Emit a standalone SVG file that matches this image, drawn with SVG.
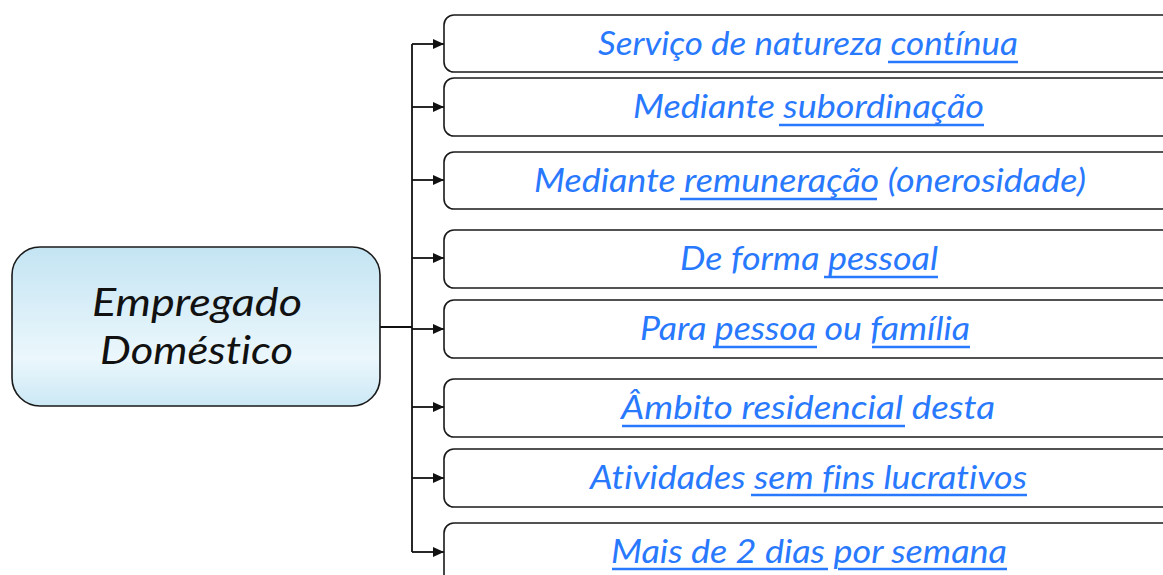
<svg xmlns="http://www.w3.org/2000/svg" width="1163" height="575" viewBox="0 0 1163 575">
<style>
.box{fill:#ffffff;stroke:#1a1a1a;stroke-width:1.6}
.main{stroke:#1a1a1a;stroke-width:1.6}
.lbl{font-family:Lato,"Open Sans","Liberation Sans",sans-serif;font-style:italic;font-size:33px;fill:#2979ff;font-variant-ligatures:none}
.ul{stroke:#2979ff;stroke-width:2.6}
.ttl{font-family:Lato,"Open Sans","Liberation Sans",sans-serif;font-style:italic;font-size:38px;fill:#111111;font-variant-ligatures:none}
.con{stroke:#111111;stroke-width:1.8;fill:none}
.arr{stroke:#111111;stroke-width:1.8;fill:none;marker-end:url(#ah)}
</style>
<defs>
<linearGradient id="g" x1="0" y1="0" x2="0" y2="1">
<stop offset="0" stop-color="#c4e4f3"/>
<stop offset="0.7" stop-color="#ebf7fc"/>
<stop offset="1" stop-color="#cbe8f5"/>
</linearGradient>
<marker id="ah" markerUnits="userSpaceOnUse" markerWidth="11" markerHeight="10" refX="11" refY="5" orient="auto">
<path d="M0,0 L11,5 L0,10 z" fill="#111111"/>
</marker>
</defs>
<g id="connectors">
<path class="con" d="M380,327 H412 M412,44 V552"/>
<line class="arr" x1="412" y1="44" x2="444" y2="44"/>
<line class="arr" x1="412" y1="107" x2="444" y2="107"/>
<line class="arr" x1="412" y1="180" x2="444" y2="180"/>
<line class="arr" x1="412" y1="258" x2="444" y2="258"/>
<line class="arr" x1="412" y1="329" x2="444" y2="329"/>
<line class="arr" x1="412" y1="407" x2="444" y2="407"/>
<line class="arr" x1="412" y1="478" x2="444" y2="478"/>
<line class="arr" x1="412" y1="552" x2="444" y2="552"/>
</g>
<g id="node-main">
<rect x="12" y="247" width="368" height="159" rx="28" fill="url(#g)" class="main"/>
<text class="ttl" x="92" y="316" textLength="210" lengthAdjust="spacingAndGlyphs">Empregado</text>
<text class="ttl" x="100" y="364" textLength="193" lengthAdjust="spacingAndGlyphs">Doméstico</text>
</g>
<g id="node-1">
<rect class="box" x="444" y="15" width="740" height="57" rx="10"/>
<text class="lbl" x="598" y="55" textLength="420" lengthAdjust="spacingAndGlyphs">Serviço de natureza <tspan>contínua</tspan></text>
<line class="ul" x1="888" y1="62" x2="1018" y2="62"/>
</g>
<g id="node-2">
<rect class="box" x="444" y="78" width="740" height="58" rx="10"/>
<text class="lbl" x="633" y="118" textLength="351" lengthAdjust="spacingAndGlyphs">Mediante <tspan>subordinação</tspan></text>
<line class="ul" x1="779" y1="125" x2="984" y2="125"/>
</g>
<g id="node-3">
<rect class="box" x="444" y="152" width="740" height="57" rx="10"/>
<text class="lbl" x="534" y="192" textLength="552" lengthAdjust="spacingAndGlyphs">Mediante <tspan>remuneração</tspan> (onerosidade)</text>
<line class="ul" x1="680" y1="199" x2="877" y2="199"/>
</g>
<g id="node-4">
<rect class="box" x="444" y="230" width="740" height="58" rx="10"/>
<text class="lbl" x="680" y="270" textLength="258" lengthAdjust="spacingAndGlyphs">De forma <tspan>pessoal</tspan></text>
<line class="ul" x1="824" y1="277" x2="938" y2="277"/>
</g>
<g id="node-5">
<rect class="box" x="444" y="300" width="740" height="58" rx="10"/>
<text class="lbl" x="640" y="340" textLength="330" lengthAdjust="spacingAndGlyphs">Para <tspan>pessoa</tspan> ou <tspan>família</tspan></text>
<line class="ul" x1="713" y1="347" x2="817" y2="347"/>
<line class="ul" x1="872" y1="347" x2="970" y2="347"/>
</g>
<g id="node-6">
<rect class="box" x="444" y="379" width="740" height="58" rx="10"/>
<text class="lbl" x="621" y="419" textLength="374" lengthAdjust="spacingAndGlyphs"><tspan>Âmbito residencial</tspan> desta</text>
<line class="ul" x1="622" y1="426" x2="905" y2="426"/>
</g>
<g id="node-7">
<rect class="box" x="444" y="449" width="740" height="58" rx="10"/>
<text class="lbl" x="590" y="489" textLength="437" lengthAdjust="spacingAndGlyphs">Atividades <tspan>sem fins lucrativos</tspan></text>
<line class="ul" x1="751" y1="495" x2="1027" y2="495"/>
</g>
<g id="node-8">
<rect class="box" x="444" y="523" width="740" height="70" rx="10"/>
<text class="lbl" x="611" y="563" textLength="396" lengthAdjust="spacingAndGlyphs"><tspan>Mais de 2 dias</tspan> <tspan>por semana</tspan></text>
<line class="ul" x1="612" y1="569" x2="828" y2="569"/>
<line class="ul" x1="838" y1="569" x2="1007" y2="569"/>
</g>
</svg>
